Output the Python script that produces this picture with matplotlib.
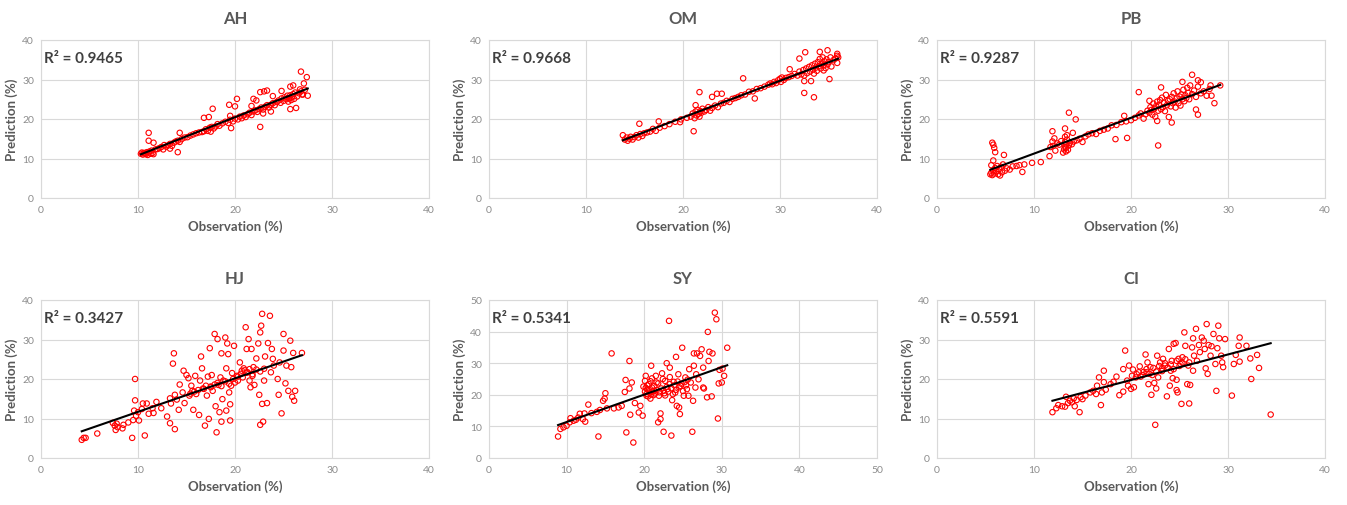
import matplotlib
matplotlib.use("Agg")
import matplotlib.pyplot as plt
import numpy as np

plt.rcParams["font.family"] = ["Lato", "DejaVu Sans"]

TEXT = "#595959"
TICK = "#8c8c8c"
DARK = "#404040"
GRID = "#d9d9d9"
RED = "#ff0000"

# ---- data: (observation, prediction) ----
AH_X = [10.3, 10.4, 10.5, 10.6, 10.7, 10.8, 10.9, 11.0, 11.1, 11.2, 11.3, 11.4, 11.5, 11.6, 11.8,
        12.0, 12.2, 12.4, 12.6, 12.7, 12.9, 13.1, 13.3, 13.5, 13.7, 13.9, 14.1, 14.3, 14.5, 14.8,
        15.1, 15.4, 15.7, 16.0, 16.3, 16.6, 16.8, 17.0, 17.2, 17.4, 17.5, 17.6, 17.8, 18.0, 18.2,
        18.4, 18.7, 19.0, 19.3, 19.5, 19.8, 20.0, 20.3, 20.5, 20.7, 20.9, 21.1, 21.3, 21.5, 21.7,
        21.9, 22.1, 22.3, 22.5, 22.7, 22.9, 23.1, 23.3, 23.5, 23.7, 23.9, 24.1, 24.3, 24.5, 24.7,
        24.8, 25.0, 25.1, 25.3, 25.4, 25.5, 25.6, 25.7, 25.8, 25.9, 26.0, 26.1, 26.2, 26.4, 26.6,
        26.8, 27.0, 27.2,
        26.8, 27.4, 27.1, 27.5, 22.6, 17.7, 16.8, 17.3, 19.4, 20.0, 20.2, 19.5, 19.6, 11.1, 11.1,
        11.6, 14.1, 14.3, 13.3, 22.6, 23.0, 23.3, 21.9, 21.7, 22.2, 23.9, 23.7, 22.9, 25.6, 25.7,
        26.3, 26.0, 25.7, 24.8, 26.7, 26.9]
AH_Y = [11.2, 11.5, 11.0, 11.4, 11.3, 11.1, 11.6, 10.9, 11.5, 11.8, 11.2, 12.0, 11.4, 11.1, 12.3,
        12.4, 12.6, 12.9, 12.3, 13.4, 13.0, 13.3, 13.7, 13.2, 14.0, 14.3, 14.5, 14.2, 14.9, 15.3,
        15.4, 15.8, 16.1, 16.4, 16.6, 16.7, 16.9, 17.4, 17.0, 17.8, 16.8, 18.0, 17.6, 18.1, 18.7,
        18.3, 18.9, 19.3, 19.0, 19.8, 19.4, 20.1, 19.9, 20.6, 20.2, 20.9, 20.5, 21.2, 21.6, 21.0,
        21.9, 22.2, 21.8, 22.5, 22.9, 22.4, 23.1, 23.5, 22.9, 23.6, 24.0, 23.5, 24.3, 24.7, 24.1,
        25.2, 24.6, 25.5, 25.0, 25.9, 24.4, 25.3, 26.0, 24.8, 25.6, 26.3, 25.1, 26.7, 25.7, 26.5,
        27.0, 26.2, 27.4,
        32.0, 30.6, 29.0, 25.9, 18.0, 22.6, 20.3, 20.5, 23.6, 23.2, 25.1, 20.8, 17.7, 16.5, 14.5,
        14.0, 11.6, 16.5, 12.5, 26.8, 27.0, 27.2, 25.1, 23.3, 24.7, 25.8, 21.9, 21.4, 25.2, 22.5,
        22.8, 28.5, 28.2, 27.1, 27.5, 26.2]

OM_X = [14.0, 14.2, 14.3, 14.5, 14.6, 14.8, 15.0, 15.2, 15.4, 15.6, 15.8, 16.0, 16.3, 16.6, 16.9,
        17.2, 17.6, 18.1, 18.6, 19.2, 19.8, 20.4, 20.8, 21.0, 21.2, 21.3, 21.4, 21.5, 21.6, 21.7,
        21.8, 21.9, 22.0, 22.2, 22.4, 22.6, 22.8, 23.0, 23.3, 23.6, 23.9, 24.2, 24.5, 24.8, 25.1,
        25.4, 25.7, 26.0, 26.4, 26.8, 27.2, 27.6, 28.0, 28.4, 28.8, 29.0, 29.2, 29.4, 29.6, 29.8,
        30.0, 30.1, 30.2, 30.4, 30.6, 30.9, 31.2, 31.5, 31.8, 32.0, 32.2, 32.4, 32.5, 32.7, 32.8,
        33.0, 33.1, 33.3, 33.4, 33.5, 33.6, 33.7, 33.8, 33.9, 34.0, 34.1, 34.2, 34.3, 34.4, 34.5,
        34.6, 34.7, 34.8, 34.9, 35.0, 35.2, 35.3, 35.5, 35.7, 35.9, 36.0,
        13.8, 15.5, 17.5, 19.7, 21.1, 21.7, 21.3, 23.0, 23.5, 24.0, 26.2, 27.4, 32.0, 32.6, 32.5,
        33.5, 33.2, 35.1, 34.1, 34.9, 35.9, 35.9, 32.5, 31.0, 34.5]
OM_Y = [14.8, 15.3, 14.5, 15.0, 15.5, 14.8, 15.4, 15.9, 15.3, 16.2, 15.7, 16.4, 16.6, 16.8, 17.5,
        17.0, 17.8, 18.2, 18.7, 19.3, 19.9, 20.3, 20.6, 21.4, 20.2, 21.9, 20.9, 22.3, 21.3, 20.6,
        22.0, 21.6, 22.6, 21.9, 22.3, 23.0, 22.1, 22.8, 23.4, 23.0, 23.9, 24.1, 24.6, 24.3, 25.1,
        25.3, 25.6, 26.0, 26.2, 26.9, 27.0, 27.6, 27.8, 28.2, 28.7, 29.0, 28.8, 29.4, 29.1, 29.8,
        30.2, 29.4, 30.5, 29.9, 30.4, 30.6, 30.9, 31.4, 31.0, 32.0, 31.3, 32.4, 31.0, 32.8, 31.6,
        33.2, 32.0, 33.6, 32.5, 31.5, 34.0, 33.0, 32.2, 34.4, 33.4, 35.2, 32.8, 34.0, 35.6, 33.6,
        34.6, 32.9, 35.1, 33.8, 34.4, 35.6, 33.3, 34.9, 35.3, 36.0, 35.6,
        15.9, 18.8, 19.4, 19.2, 16.9, 26.8, 23.5, 25.6, 26.4, 26.4, 30.3, 25.2, 35.3, 36.9, 26.6,
        25.5, 29.6, 30.1, 37.0, 37.4, 36.5, 34.2, 29.6, 32.6, 32.3]

PB_X = [5.5, 5.6, 5.7, 5.8, 5.9, 6.0, 6.1, 6.2, 6.3, 6.4, 6.5, 6.6, 6.7, 6.8, 7.0, 7.2, 7.5, 7.8,
        8.2, 8.5,
        11.7, 11.9, 12.0, 12.1, 12.2, 12.4, 12.6, 12.8, 13.0, 13.1, 13.2, 13.2, 13.2, 13.3, 13.3,
        13.3, 13.4, 13.4, 13.5, 13.6, 13.7, 13.9, 14.1, 14.4, 14.7, 15.0, 15.3, 15.6, 16.0, 16.4,
        16.8, 17.2, 17.6, 18.0, 18.5, 19.0, 19.5, 20.0, 20.4, 20.8, 21.0, 21.3, 21.5, 21.7, 21.9,
        22.0, 22.1, 22.2, 22.3, 22.4, 22.5, 22.6, 22.7, 22.8, 22.9, 23.0, 23.1, 23.2, 23.3, 23.4,
        23.5, 23.6, 23.7, 23.8, 23.9, 24.0, 24.1, 24.2, 24.3, 24.4, 24.5, 24.6, 24.7, 24.8, 24.9,
        25.0, 25.1, 25.2, 25.3, 25.4, 25.5, 25.6, 25.7, 25.8, 25.9, 26.0, 26.1, 26.3, 26.5, 26.7,
        26.9, 27.2, 27.5, 27.8, 28.1,
        5.7, 5.8, 5.9, 6.0, 6.9, 5.8, 5.6, 9.8, 10.7, 8.8, 9.0, 11.9, 13.2, 13.6, 14.3, 14.0, 11.6,
        18.4, 19.6, 19.3, 20.8, 22.8, 24.2, 25.3, 26.3, 26.9, 27.2, 26.7, 26.9, 28.6, 28.3, 29.2,
        28.2, 23.1, 21.9, 22.7]
PB_Y = [6.0, 6.4, 5.8, 7.0, 6.2, 7.6, 6.8, 8.1, 6.0, 7.3, 5.7, 7.9, 6.5, 8.5, 6.9, 7.5, 7.2, 8.0,
        8.1, 8.3,
        12.9, 14.3, 13.2, 15.1, 12.0, 13.8, 13.5, 14.4, 11.5, 12.3, 13.0, 14.2, 15.5, 11.8, 12.7,
        13.6, 14.8, 15.9, 12.2, 13.3, 14.0, 13.6, 14.3, 14.6, 15.0, 14.2, 15.6, 16.1, 16.4, 16.2,
        17.0, 17.3, 17.6, 18.4, 18.5, 19.2, 19.4, 19.7, 20.3, 20.9, 21.4, 20.1, 21.2, 22.1, 21.6,
        23.0, 22.3, 21.1, 23.9, 22.6, 20.6, 23.3, 24.4, 22.1, 23.6, 24.8, 22.5, 25.4, 23.0, 24.1,
        22.0, 26.1, 23.5, 24.6, 20.5, 25.0, 23.2, 25.6, 24.0, 26.5, 24.4, 22.9, 25.2, 27.0, 24.0,
        25.7, 23.4, 26.2, 25.0, 27.4, 24.5, 26.0, 25.3, 27.9, 26.6, 25.0, 28.5, 26.3, 27.2, 25.6,
        28.2, 26.5, 27.0, 25.9, 27.6,
        14.0, 13.5, 12.7, 11.6, 10.9, 9.5, 8.3, 8.9, 9.1, 6.6, 8.5, 16.9, 17.6, 21.6, 19.9, 16.5,
        10.6, 14.9, 15.2, 20.8, 26.8, 13.3, 19.1, 29.4, 31.2, 29.8, 29.3, 22.4, 21.1, 24.0, 25.9,
        28.5, 28.5, 28.0, 24.6, 19.5]

HJ_X = [4.2, 4.4, 4.6, 5.8, 7.4, 7.6, 7.7, 7.8, 7.9, 8.4, 8.5, 9.0, 9.4, 9.7, 9.7, 9.6, 9.5, 9.8,
        10.1, 10.0, 10.4, 10.7, 10.5, 10.9, 11.1, 11.5, 11.6, 11.9, 12.4, 13.0, 13.3, 13.8, 13.7,
        13.6, 13.3, 13.4, 13.8, 14.0, 14.2, 14.3, 14.6, 14.7, 14.8, 15.0, 15.2, 15.3, 15.5, 15.6,
        15.7, 15.9, 16.0, 16.3, 16.4, 16.5, 16.6, 16.8, 16.9, 17.1, 17.2, 17.3, 17.4, 17.5, 17.6,
        17.7, 17.9, 18.0, 18.1, 18.2, 18.3, 18.4, 18.5, 18.6, 18.6, 18.7, 18.8, 19.0, 19.1, 19.1,
        19.2, 19.3, 19.4, 19.5, 19.5, 19.6, 19.7, 19.9, 20.0, 20.2, 20.3, 20.5, 20.7, 20.8, 20.9,
        21.1, 21.2, 21.3, 21.4, 21.5, 21.6, 21.7, 21.8, 21.9, 22.0, 22.2, 22.4, 22.5, 22.6, 22.6,
        22.7, 22.8, 22.8, 22.9, 23.0, 23.1, 23.3, 23.4, 23.6, 23.7, 23.8, 23.9, 24.0, 24.4, 24.5,
        24.6, 24.8, 25.0, 25.0, 25.2, 25.3, 25.5, 25.7, 25.8, 25.9, 26.1, 26.2, 26.0, 26.9,
        15.4, 15.8, 16.2, 16.7, 17.0, 17.5, 17.9, 18.2, 18.6, 19.0, 19.4, 19.8, 20.3, 20.6, 21.0,
        21.2, 21.5, 21.8, 22.2, 22.6, 23.0]
HJ_Y = [4.6, 5.1, 5.1, 6.2, 8.9, 8.2, 7.1, 8.7, 7.8, 7.5, 8.4, 9.0, 5.1, 20.0, 14.6, 12.0, 9.6, 10.7,
        9.5, 11.6, 12.4, 5.7, 13.8, 13.8, 11.2, 12.6, 11.4, 14.2, 12.6, 10.5, 8.8, 7.3, 26.5,
        23.9, 15.1, 13.8, 16.0, 14.8, 12.2, 18.6, 16.6, 22.1, 13.9, 21.0, 20.2, 15.8, 18.3, 17.0,
        12.2, 20.8, 16.2, 10.9, 19.6, 25.7, 22.7, 17.5, 8.2, 15.8, 20.6, 9.9, 27.8, 18.1, 21.0,
        17.0, 31.4, 13.1, 6.5, 30.1, 18.5, 11.6, 20.4, 26.5, 9.2, 14.9, 19.6, 30.5, 22.7, 12.0,
        29.0, 26.3, 16.6, 13.6, 9.5, 18.3, 21.5, 28.4, 19.1, 20.8, 19.6, 24.2, 22.1, 20.4, 22.7,
        33.1, 27.6, 21.7, 30.1, 19.6, 17.9, 27.6, 20.8, 23.0, 18.5, 25.2, 29.0, 16.0, 8.4, 31.8,
        33.5, 36.5, 13.7, 9.2, 19.6, 25.7, 13.9, 29.1, 36.0, 21.7, 27.6, 25.1, 23.4, 20.0, 16.0,
        24.2, 11.3, 27.2, 31.4, 18.9, 23.4, 17.0, 29.7, 23.0, 15.5, 14.5, 17.0, 26.6, 26.6,
        16.3, 16.8, 17.2, 17.6, 18.3, 17.9, 18.6, 19.0, 18.2, 19.4, 18.8, 20.0, 20.6, 21.3, 22.2,
        21.6, 22.5, 21.2, 22.4, 21.9, 22.6]

SY_X = [8.9, 9.2, 9.6, 10.0, 10.4, 10.5, 10.9, 11.2, 11.5, 11.7, 12.1, 12.3, 12.4, 12.8, 13.2,
        13.9, 14.1, 14.3, 14.7, 14.9, 15.0, 15.2, 15.8, 16.1, 16.7, 17.1, 17.5, 17.6, 17.7, 18.1,
        18.1, 18.2, 18.4, 18.6, 18.8, 19.3, 19.5, 19.8, 19.9, 20.1, 20.2, 20.3, 20.4, 20.6, 20.7,
        20.8, 20.9, 21.0, 21.2, 21.3, 21.5, 21.6, 21.8, 21.9, 22.1, 22.1, 22.3, 22.5, 22.6, 22.7,
        22.9, 23.0, 23.2, 23.3, 23.3, 23.5, 23.6, 23.8, 24.0, 24.1, 24.2, 24.4, 24.5, 24.6, 24.7,
        24.9, 25.1, 25.3, 25.5, 25.7, 25.8, 26.0, 26.2, 26.3, 26.4, 26.4, 26.6, 26.7, 26.8, 27.0,
        27.2, 27.4, 27.6, 27.6, 27.7, 28.1, 28.2, 28.3, 28.4, 28.7, 28.8, 29.1, 29.3, 29.5, 29.6,
        29.7, 30.0, 30.1, 30.3, 30.7,
        20.1, 20.2, 20.3, 20.4, 20.5, 20.6, 20.8, 20.9, 21.0, 21.1, 21.3, 21.4, 21.6, 21.8, 22.0,
        22.2, 22.4, 22.5, 22.7, 22.9, 23.1, 23.3, 23.5, 23.7, 23.9, 24.1, 24.3, 24.5, 24.8, 25.0,
        25.2, 25.4, 25.6]
SY_Y = [6.8, 9.2, 9.7, 10.2, 11.3, 12.6, 11.8, 12.1, 12.8, 14.0, 12.3, 14.1, 11.5, 16.9, 14.2,
        14.6, 6.8, 15.2, 18.1, 18.8, 20.5, 15.7, 33.1, 15.7, 16.0, 16.5, 20.9, 24.7, 8.1, 30.7,
        22.0, 13.7, 23.9, 4.9, 17.4, 14.4, 16.5, 13.4, 22.6, 24.4, 26.0, 19.7, 21.8, 23.4, 20.7,
        18.8, 29.2, 22.3, 19.9, 21.3, 26.0, 23.9, 11.3, 19.7, 14.1, 12.3, 26.8, 8.3, 20.5, 24.4,
        30.0, 21.8, 43.4, 28.6, 23.4, 7.1, 18.3, 24.1, 20.7, 32.0, 16.5, 26.5, 16.0, 13.9, 22.8,
        34.9, 19.7, 25.5, 21.8, 19.7, 28.1, 23.9, 8.3, 18.1, 33.1, 29.2, 22.3, 26.5, 33.1, 24.9,
        32.3, 34.4, 22.3, 28.6, 22.0, 19.2, 39.9, 30.7, 33.6, 19.5, 33.1, 46.0, 43.9, 12.5, 23.6,
        27.9, 23.9, 28.3, 26.0, 34.9,
        21.0, 22.2, 20.3, 23.0, 19.5, 21.6, 24.3, 20.1, 25.2, 21.0, 22.8, 20.4, 21.5, 23.6, 20.8,
        22.0, 25.0, 21.3, 19.8, 22.5, 21.0, 25.6, 22.1, 20.2, 23.0, 21.6, 24.2, 22.4, 23.5, 21.2,
        24.0, 23.0, 24.8]

CI_X = [11.9, 12.3, 12.5, 12.9, 13.2, 13.3, 13.5, 13.7, 13.9, 14.1, 14.2, 14.4, 14.7, 14.8, 15.0,
        15.3, 15.8, 16.1, 16.4, 16.5, 16.7, 16.9, 17.0, 17.2, 17.2, 17.4, 17.9, 18.2, 18.5, 18.8,
        19.2, 19.2, 19.4, 19.6, 19.7, 19.8, 20.0, 20.1, 20.2, 20.3, 20.5, 20.8, 20.9, 21.2, 21.5,
        21.6, 21.7, 21.8, 22.0, 22.1, 22.2, 22.4, 22.5, 22.6, 22.7, 22.8, 23.0, 23.2, 23.3, 23.5,
        23.7, 23.9, 24.0, 24.1, 24.2, 24.3, 24.4, 24.6, 24.7, 24.7, 24.8, 24.9, 25.1, 25.2, 25.3,
        25.5, 25.6, 25.8, 25.9, 26.0, 26.1, 26.3, 26.4, 26.4, 26.5, 26.7, 26.8, 27.0, 27.1, 27.3,
        27.5, 27.6, 27.7, 27.8, 27.9, 28.0, 28.2, 28.3, 28.5, 28.7, 28.8, 28.9, 29.0, 29.1, 29.3,
        29.4, 29.5, 29.7, 30.4, 30.6, 30.8, 31.1, 31.2, 31.2, 31.9, 32.3, 32.4, 33.0, 33.2, 34.4,
        20.6, 21.0, 21.3, 21.6, 21.9, 22.3, 22.6, 22.9, 23.2, 23.5, 23.8, 24.1, 24.4, 24.7, 25.0,
        25.3, 25.6, 26.0]
CI_Y = [11.6, 12.6, 13.4, 13.1, 13.0, 15.5, 13.9, 14.5, 14.1, 15.1, 13.1, 14.7, 11.6, 15.4, 14.9,
        15.8, 16.6, 17.0, 16.2, 18.3, 20.4, 13.4, 16.6, 22.1, 19.2, 17.3, 18.7, 19.3, 20.6, 15.9,
        16.8, 22.5, 27.2, 19.6, 18.3, 23.4, 17.5, 20.8, 22.4, 17.9, 20.4, 21.7, 23.2, 21.0, 26.2,
        21.7, 24.2, 18.7, 23.0, 16.0, 21.0, 19.0, 8.4, 17.6, 25.9, 20.4, 24.2, 22.7, 25.1, 23.4,
        15.6, 27.6, 18.3, 22.1, 24.6, 20.2, 28.9, 29.1, 19.8, 17.2, 16.6, 25.1, 23.8, 13.7, 25.5,
        31.8, 28.4, 18.7, 23.4, 13.8, 18.5, 28.0, 30.3, 22.1, 25.9, 32.7, 24.6, 28.6, 26.8, 30.5,
        29.7, 27.6, 22.7, 33.9, 21.3, 28.6, 25.9, 28.3, 31.4, 23.8, 17.0, 27.8, 33.5, 30.3, 25.9,
        24.2, 23.0, 30.1, 15.8, 23.8, 26.1, 28.4, 24.4, 30.5, 28.4, 25.2, 20.0, 26.1, 22.8, 11.0,
        21.2, 20.6, 21.8, 22.5, 21.3, 22.8, 21.9, 23.3, 22.0, 24.0, 22.9, 23.7, 22.5, 24.6, 23.3,
        24.1, 25.0, 24.2]

PANELS = [
    ("AH", AH_X, AH_Y, "R² = 0.9465", 40, [0, 10, 20, 30, 40]),
    ("OM", OM_X, OM_Y, "R² = 0.9668", 40, [0, 10, 20, 30, 40]),
    ("PB", PB_X, PB_Y, "R² = 0.9287", 40, [0, 10, 20, 30, 40]),
    ("HJ", HJ_X, HJ_Y, "R² = 0.3427", 40, [0, 10, 20, 30, 40]),
    ("SY", SY_X, SY_Y, "R² = 0.5341", 50, [0, 10, 20, 30, 40, 50]),
    ("CI", CI_X, CI_Y, "R² = 0.5591", 40, [0, 10, 20, 30, 40]),
]

W, H = 1347, 506
fig = plt.figure(figsize=(W / 100, H / 100), dpi=100)
fig.patch.set_facecolor("white")

lefts = [41, 489, 937]
bottoms = [199, 459]
tops = [41, 301]
aw = 388

for i, (name, xs, ys, r2, lim, ticks) in enumerate(PANELS):
    row, col = divmod(i, 3)
    l, b, t = lefts[col], bottoms[row], tops[row]
    ax = fig.add_axes([l / W, 1 - b / H, aw / W, (b - t) / H])
    xs = np.array(xs)
    ys = np.array(ys)
    ax.scatter(xs, ys, s=15, facecolors="none", edgecolors=RED, linewidths=0.8, zorder=3)
    # linear trendline across the observed range
    k, c = np.polyfit(xs, ys, 1)
    lx = np.array([xs.min(), xs.max()])
    ax.plot(lx, k * lx + c, color="black", lw=1.5, zorder=4)

    ax.set_xlim(0, lim)
    ax.set_ylim(0, lim)
    ax.set_xticks(ticks)
    ax.set_yticks(ticks)
    ax.grid(True, color=GRID, lw=0.8, zorder=0)
    ax.set_axisbelow(True)
    for s in ax.spines.values():
        s.set_color(GRID)
        s.set_linewidth(0.8)
    ax.tick_params(length=0, labelsize=7.5, labelcolor=TICK, pad=5)
    ax.text(0.008, 0.93, r2, transform=ax.transAxes, fontsize=11, fontweight="bold",
            color=DARK, ha="left", va="top")
    ax.set_xlabel("Observation (%)", fontsize=9.5, fontweight="bold", color=TEXT, labelpad=4)
    ax.set_ylabel("Prediction (%)", fontsize=9.5, fontweight="bold", color=TEXT, labelpad=3)
    ax.set_title(name, fontsize=12, fontweight="bold", color=TEXT, pad=12)

fig.savefig("out.png", dpi=100, facecolor="white")
